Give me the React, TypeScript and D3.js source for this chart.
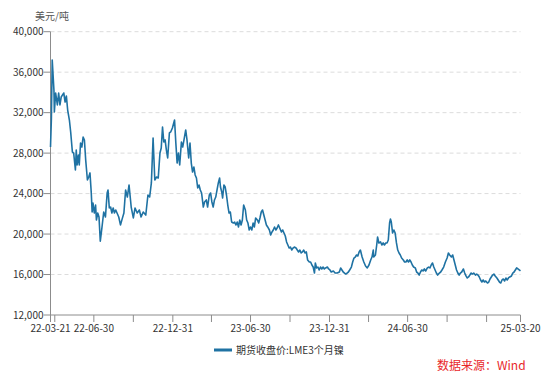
import React from "react";
import * as d3 from "d3";

const priceData: [string, number][] = [
  ["2022-03-21", 28600], ["2022-03-23", 31300], ["2022-03-25", 37200], ["2022-03-29", 34240], ["2022-03-30", 32070],
  ["2022-04-02", 33940], ["2022-04-06", 32760], ["2022-04-09", 33940], ["2022-04-12", 32760], ["2022-04-15", 33550],
  ["2022-04-18", 33750], ["2022-04-21", 33940], ["2022-04-24", 33050], ["2022-04-27", 33650], ["2022-04-30", 32260],
  ["2022-05-04", 31270], ["2022-05-07", 30090], ["2022-05-11", 28110], ["2022-05-14", 28010], ["2022-05-18", 26330],
  ["2022-05-20", 28300], ["2022-05-22", 26830], ["2022-05-25", 27810], ["2022-05-27", 26830], ["2022-05-30", 29000],
  ["2022-06-02", 28600], ["2022-06-05", 29590], ["2022-06-08", 29300], ["2022-06-11", 27320], ["2022-06-15", 25340],
  ["2022-06-18", 25640], ["2022-06-21", 26040], ["2022-06-24", 24060], ["2022-06-26", 22180], ["2022-06-28", 23070],
  ["2022-07-01", 22080], ["2022-07-04", 22870], ["2022-07-06", 21390], ["2022-07-09", 22080], ["2022-07-12", 21690],
  ["2022-07-15", 19300], ["2022-07-19", 20700], ["2022-07-23", 22180], ["2022-07-27", 21690], ["2022-07-31", 24060],
  ["2022-08-02", 24360], ["2022-08-05", 22580], ["2022-08-08", 22670], ["2022-08-11", 22080], ["2022-08-14", 22580],
  ["2022-08-17", 22080], ["2022-08-20", 22380], ["2022-08-23", 22080], ["2022-08-27", 21690], ["2022-08-31", 20900],
  ["2022-09-04", 21500], ["2022-09-08", 22080], ["2022-09-12", 24360], ["2022-09-16", 23660], ["2022-09-20", 24850],
  ["2022-09-25", 22670], ["2022-09-30", 21590], ["2022-10-04", 22580], ["2022-10-09", 22080], ["2022-10-14", 22380],
  ["2022-10-18", 21690], ["2022-10-23", 22180], ["2022-10-29", 21880], ["2022-11-03", 23860], ["2022-11-07", 23660],
  ["2022-11-11", 25050], ["2022-11-15", 29500], ["2022-11-19", 25340], ["2022-11-23", 25640], ["2022-11-27", 25540],
  ["2022-12-01", 28010], ["2022-12-04", 28500], ["2022-12-07", 30580], ["2022-12-10", 29100], ["2022-12-13", 29300],
  ["2022-12-16", 28300], ["2022-12-19", 27520], ["2022-12-23", 29990], ["2022-12-26", 30090], ["2022-12-30", 30480],
  ["2023-01-04", 31270], ["2023-01-07", 29000], ["2023-01-10", 27020], ["2023-01-13", 28010], ["2023-01-16", 26830],
  ["2023-01-20", 29100], ["2023-01-23", 28600], ["2023-01-26", 29300], ["2023-01-30", 30290], ["2023-02-02", 29300],
  ["2023-02-06", 27520], ["2023-02-09", 29000], ["2023-02-12", 27020], ["2023-02-15", 26130], ["2023-02-18", 26630],
  ["2023-02-21", 25840], ["2023-02-24", 25540], ["2023-02-27", 24550], ["2023-03-02", 24850], ["2023-03-05", 24360],
  ["2023-03-08", 24060], ["2023-03-12", 22670], ["2023-03-15", 23170], ["2023-03-19", 23370], ["2023-03-22", 22670],
  ["2023-03-26", 23860], ["2023-03-29", 24060], ["2023-04-01", 23170], ["2023-04-04", 22670], ["2023-04-07", 23370],
  ["2023-04-10", 23660], ["2023-04-13", 24360], ["2023-04-16", 25050], ["2023-04-19", 25540], ["2023-04-21", 24650],
  ["2023-04-24", 24160], ["2023-04-26", 23560], ["2023-04-29", 24850], ["2023-05-02", 24650], ["2023-05-05", 23860],
  ["2023-05-08", 22870], ["2023-05-11", 22080], ["2023-05-14", 22180], ["2023-05-17", 21190], ["2023-05-21", 21090],
  ["2023-05-24", 21190], ["2023-05-27", 20900], ["2023-05-30", 21190], ["2023-06-02", 20700], ["2023-06-05", 21390],
  ["2023-06-08", 20900], ["2023-06-11", 21390], ["2023-06-14", 22870], ["2023-06-18", 22380], ["2023-06-21", 21390],
  ["2023-06-24", 21090], ["2023-06-27", 20400], ["2023-06-30", 20700], ["2023-07-03", 20400], ["2023-07-06", 21090],
  ["2023-07-09", 20700], ["2023-07-12", 21590], ["2023-07-16", 21390], ["2023-07-19", 21090], ["2023-07-22", 21590],
  ["2023-07-25", 22180], ["2023-07-28", 22380], ["2023-07-31", 21880], ["2023-08-03", 21390], ["2023-08-06", 20900],
  ["2023-08-09", 20700], ["2023-08-13", 20400], ["2023-08-16", 19910], ["2023-08-19", 20200], ["2023-08-22", 20400],
  ["2023-08-25", 20700], ["2023-08-28", 20400], ["2023-08-31", 20600], ["2023-09-03", 20900], ["2023-09-06", 20600],
  ["2023-09-10", 20200], ["2023-09-13", 20400], ["2023-09-16", 20100], ["2023-09-19", 19810], ["2023-09-22", 19220],
  ["2023-09-25", 18920], ["2023-09-28", 18620], ["2023-10-01", 18720], ["2023-10-04", 18420], ["2023-10-07", 18620],
  ["2023-10-10", 18720], ["2023-10-14", 18620], ["2023-10-17", 18420], ["2023-10-20", 18230], ["2023-10-23", 18420],
  ["2023-10-26", 18130], ["2023-10-29", 18230], ["2023-11-01", 18420], ["2023-11-04", 18130], ["2023-11-07", 18230],
  ["2023-11-10", 17440], ["2023-11-14", 17240], ["2023-11-17", 17240], ["2023-11-20", 16940], ["2023-11-23", 16740],
  ["2023-11-26", 16150], ["2023-11-28", 17140], ["2023-12-01", 16650], ["2023-12-04", 16740], ["2023-12-07", 16450],
  ["2023-12-10", 16740], ["2023-12-13", 16550], ["2023-12-16", 16740], ["2023-12-19", 16550], ["2023-12-22", 16650],
  ["2023-12-26", 16740], ["2023-12-29", 16550], ["2024-01-01", 16450], ["2024-01-04", 16250], ["2024-01-09", 16350],
  ["2024-01-13", 16150], ["2024-01-18", 16150], ["2024-01-23", 16250], ["2024-01-26", 16650], ["2024-01-29", 16450],
  ["2024-02-01", 16250], ["2024-02-04", 16150], ["2024-02-07", 16050], ["2024-02-10", 16150], ["2024-02-13", 16250],
  ["2024-02-16", 16450], ["2024-02-20", 16740], ["2024-02-23", 17240], ["2024-02-26", 17630], ["2024-02-29", 17730],
  ["2024-03-03", 17930], ["2024-03-06", 17830], ["2024-03-09", 18230], ["2024-03-12", 18420], ["2024-03-16", 17730],
  ["2024-03-20", 17240], ["2024-03-24", 16840], ["2024-03-28", 16650], ["2024-04-01", 16940], ["2024-04-05", 17440],
  ["2024-04-08", 17730], ["2024-04-11", 18420], ["2024-04-12", 17730], ["2024-04-16", 17930], ["2024-04-19", 18920],
  ["2024-04-21", 19710], ["2024-04-24", 19120], ["2024-04-28", 19220], ["2024-05-01", 18920], ["2024-05-04", 19120],
  ["2024-05-07", 18920], ["2024-05-10", 19120], ["2024-05-13", 19120], ["2024-05-16", 19410], ["2024-05-19", 21090],
  ["2024-05-21", 21490], ["2024-05-23", 21190], ["2024-05-26", 20100], ["2024-05-29", 20400], ["2024-06-01", 20100],
  ["2024-06-04", 19120], ["2024-06-07", 18420], ["2024-06-10", 18130], ["2024-06-13", 17930], ["2024-06-16", 17630],
  ["2024-06-20", 17440], ["2024-06-23", 17240], ["2024-06-26", 17240], ["2024-06-29", 17440], ["2024-07-02", 17240],
  ["2024-07-05", 17440], ["2024-07-08", 17240], ["2024-07-11", 16940], ["2024-07-14", 16740], ["2024-07-18", 16650],
  ["2024-07-21", 16250], ["2024-07-24", 16150], ["2024-07-27", 15950], ["2024-07-30", 16250], ["2024-08-02", 16450],
  ["2024-08-05", 16350], ["2024-08-08", 16550], ["2024-08-11", 16350], ["2024-08-15", 16650], ["2024-08-18", 16740],
  ["2024-08-21", 16650], ["2024-08-24", 16940], ["2024-08-27", 17140], ["2024-08-30", 16740], ["2024-09-02", 16450],
  ["2024-09-05", 16150], ["2024-09-08", 15950], ["2024-09-12", 16150], ["2024-09-15", 16250], ["2024-09-18", 16450],
  ["2024-09-22", 16740], ["2024-09-26", 17240], ["2024-09-30", 17630], ["2024-10-03", 18130], ["2024-10-06", 17930],
  ["2024-10-10", 17730], ["2024-10-13", 17930], ["2024-10-16", 17440], ["2024-10-19", 16940], ["2024-10-22", 16450],
  ["2024-10-25", 16150], ["2024-10-28", 15950], ["2024-10-31", 16150], ["2024-11-03", 16250], ["2024-11-07", 16550],
  ["2024-11-10", 16150], ["2024-11-13", 15860], ["2024-11-16", 15660], ["2024-11-19", 15760], ["2024-11-22", 15950],
  ["2024-11-25", 16150], ["2024-11-28", 16050], ["2024-12-01", 16150], ["2024-12-05", 15950], ["2024-12-08", 16050],
  ["2024-12-11", 15950], ["2024-12-14", 15760], ["2024-12-17", 15460], ["2024-12-20", 15260], ["2024-12-23", 15460],
  ["2024-12-26", 15260], ["2024-12-29", 15360], ["2025-01-02", 15160], ["2025-01-05", 15260], ["2025-01-08", 15560],
  ["2025-01-11", 15760], ["2025-01-14", 15950], ["2025-01-17", 16050], ["2025-01-20", 15860], ["2025-01-24", 15660],
  ["2025-01-27", 15460], ["2025-01-30", 15260], ["2025-02-02", 15160], ["2025-02-05", 15460], ["2025-02-08", 15560],
  ["2025-02-11", 15360], ["2025-02-14", 15660], ["2025-02-17", 15460], ["2025-02-20", 15660], ["2025-02-23", 15760],
  ["2025-02-27", 15860], ["2025-03-02", 16150], ["2025-03-05", 16250], ["2025-03-08", 16450], ["2025-03-11", 16650],
  ["2025-03-14", 16550], ["2025-03-17", 16450], ["2025-03-20", 16350],
];

const yTicks = [12000, 16000, 20000, 24000, 28000, 32000, 36000, 40000];
const xTickDates = [
  "2022-03-21", "2022-03-31", "2022-06-30", "2022-09-30", "2022-12-31", "2023-03-31", "2023-06-30",
  "2023-09-30", "2023-12-31", "2024-03-31", "2024-06-30", "2024-09-30", "2024-12-31", "2025-03-20",
];
const xLabelDates = ["2022-03-21", "2022-06-30", "2022-12-31", "2023-06-30", "2023-12-31", "2024-06-30", "2025-03-20"];
const yUnit = "美元/吨";
const seriesName = "期货收盘价:LME3个月镍";
const sourceText = "数据来源：Wind";

const parse = d3.timeParse("%Y-%m-%d");
const fmtLabel = d3.timeFormat("%y-%m-%d");
const fmtNum = d3.format(",");
const FONT = "'Noto Sans CJK SC', 'Noto Sans', sans-serif";

export default function App() {
  const left = 50.5, right = 520.5, top = 31.7, bottom = 315;
  const x = d3.scaleTime()
    .domain([parse("2022-03-21")!, parse("2025-03-20")!])
    .range([left, right]);
  const y = d3.scaleLinear().domain([12000, 40000]).range([bottom, top]);
  const line = d3.line<[string, number]>()
    .x((d) => x(parse(d[0])!))
    .y((d) => y(d[1]));
  const lineColor = "#1f72a3";
  const axisColor = "#8c8c8c";

  return (
    <svg width={550} height={382} style={{ position: "absolute", left: 0, top: 0, background: "#fff" }} fontFamily={FONT}>
      {yTicks.filter((t) => t !== 12000).map((t) => (
        <line key={"g" + t} x1={left} x2={right} y1={y(t)} y2={y(t)} stroke="#dcdcdc" strokeDasharray="4 3" strokeWidth={1} />
      ))}
      <text x={35} y={20} fontSize={10} fill="#555">{yUnit}</text>
      {yTicks.map((t) => (
        <g key={"y" + t}>
          <line x1={left - 7} x2={left} y1={y(t)} y2={y(t)} stroke={axisColor} />
          <text x={left - 7} y={y(t)} dy="0.35em" textAnchor="end" fontSize={10} fill="#333">{fmtNum(t)}</text>
        </g>
      ))}
      <line x1={left} x2={left} y1={top} y2={bottom} stroke={axisColor} />
      <line x1={left} x2={right} y1={bottom} y2={bottom} stroke={axisColor} />
      {xTickDates.map((d) => (
        <line key={"xt" + d} x1={x(parse(d)!)} x2={x(parse(d)!)} y1={bottom} y2={bottom + 7} stroke={axisColor} />
      ))}
      {xLabelDates.map((d) => (
        <text key={"xl" + d} x={x(parse(d)!)} y={bottom + 17} textAnchor="middle" fontSize={10} fill="#333">{fmtLabel(parse(d)!)}</text>
      ))}
      <path d={line(priceData) || ""} fill="none" stroke={lineColor} strokeWidth={1.6} strokeLinejoin="round" />
      <line x1={214} x2={232} y1={350} y2={350} stroke={lineColor} strokeWidth={3} />
      <text x={236} y={350} dy="0.35em" fontSize={10} fill="#333">{seriesName}</text>
      <text x={437} y={366} dy="0.35em" fontSize={12} fill="#e8262a">{sourceText}</text>
    </svg>
  );
}
